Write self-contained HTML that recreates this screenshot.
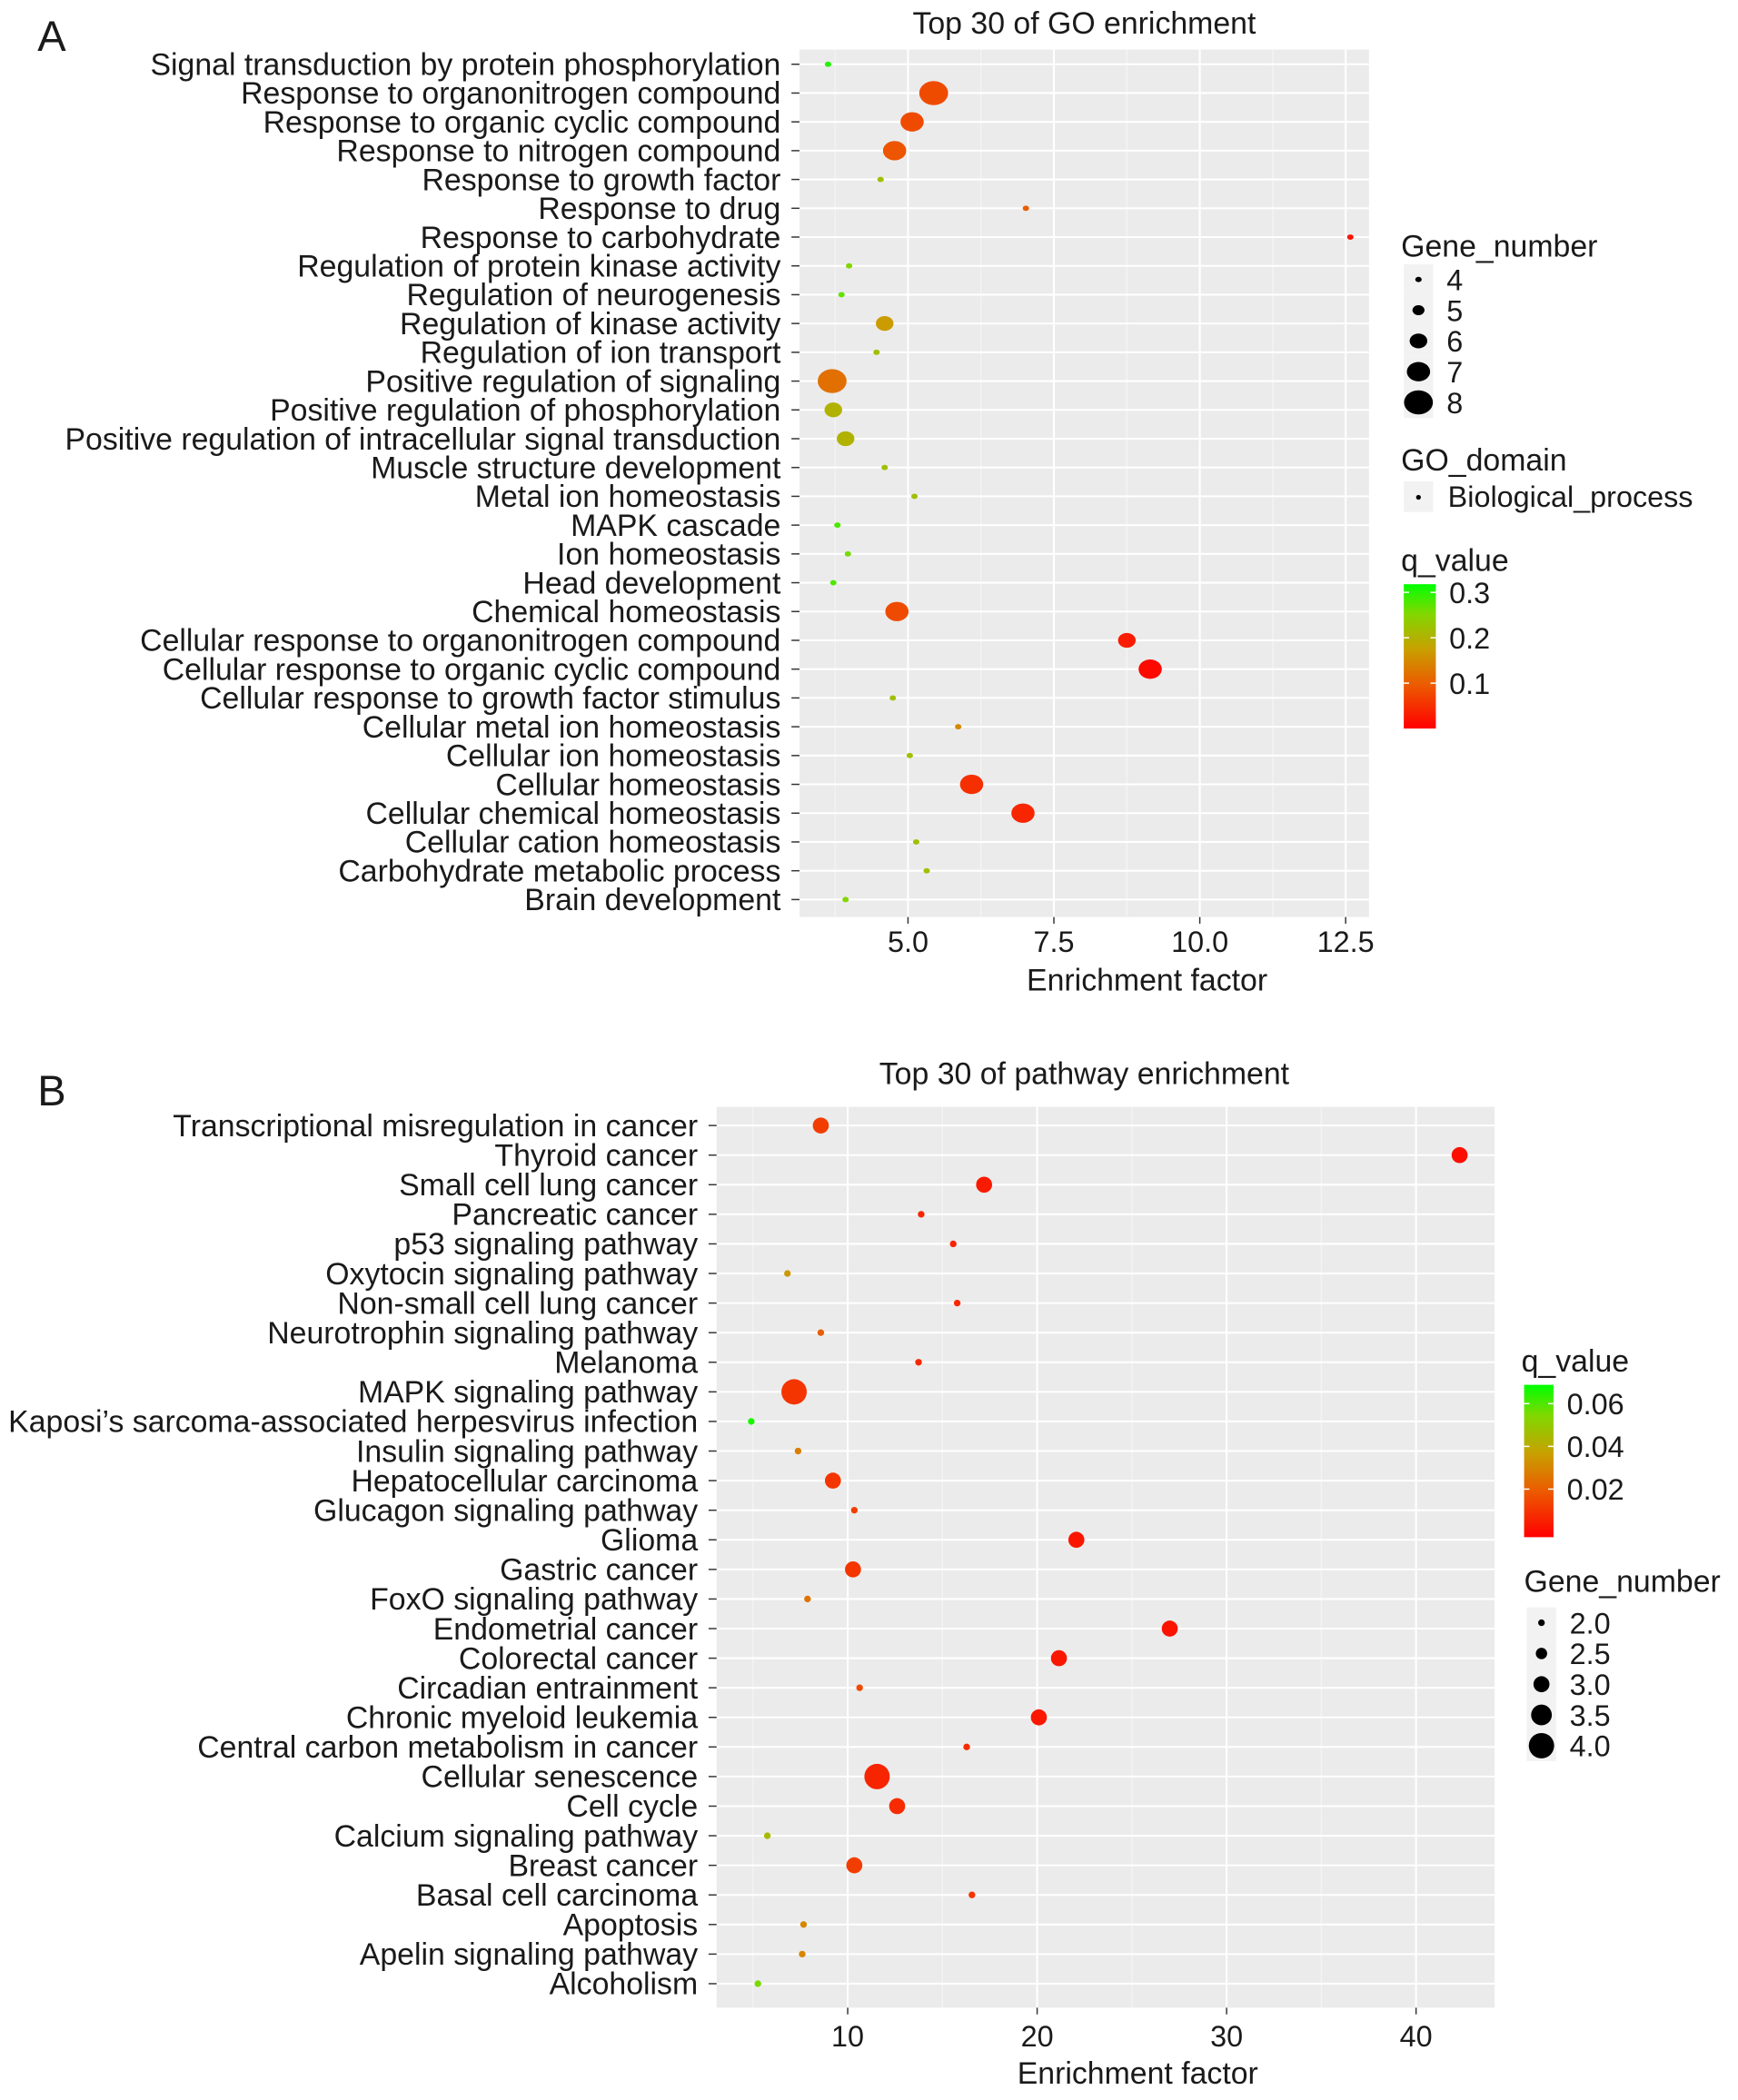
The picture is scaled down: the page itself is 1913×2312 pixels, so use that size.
<!DOCTYPE html>
<html><head><meta charset="utf-8"><style>
html,body{margin:0;padding:0;background:#fff}
svg{display:block}
text{font-family:"Liberation Sans",Arial,sans-serif;fill:#1a1a1a}
</style></head><body>
<svg id="chart" width="1913" height="2312" viewBox="0 0 1300 1571" xmlns="http://www.w3.org/2000/svg">
<defs>
<linearGradient id="gA" x1="0" y1="1" x2="0" y2="0">
<stop offset="0" stop-color="#ff0000"/><stop offset="0.3" stop-color="#ec5a00"/><stop offset="0.55" stop-color="#c8a000"/><stop offset="0.8" stop-color="#80d800"/><stop offset="1" stop-color="#00ff00"/>
</linearGradient>
</defs>
<g id="root"></g>
</svg>
<script>
const NS="http://www.w3.org/2000/svg";
const root=document.getElementById('root');
function mk(tag,attrs,parent,txt){const e=document.createElementNS(NS,tag);for(const k in attrs)e.setAttribute(k,attrs[k]);if(txt!==undefined)e.textContent=txt;(parent||root).appendChild(e);return e;}

// ---- Panel A data ----
const goTerms=["Signal transduction by protein phosphorylation","Response to organonitrogen compound","Response to organic cyclic compound","Response to nitrogen compound","Response to growth factor","Response to drug","Response to carbohydrate","Regulation of protein kinase activity","Regulation of neurogenesis","Regulation of kinase activity","Regulation of ion transport","Positive regulation of signaling","Positive regulation of phosphorylation","Positive regulation of intracellular signal transduction","Muscle structure development","Metal ion homeostasis","MAPK cascade","Ion homeostasis","Head development","Chemical homeostasis","Cellular response to organonitrogen compound","Cellular response to organic cyclic compound","Cellular response to growth factor stimulus","Cellular metal ion homeostasis","Cellular ion homeostasis","Cellular homeostasis","Cellular chemical homeostasis","Cellular cation homeostasis","Carbohydrate metabolic process","Brain development"];
const goFactor=[3.63,5.44,5.07,4.77,4.53,7.02,12.58,3.99,3.86,4.6,4.46,3.7,3.72,3.93,4.6,5.11,3.79,3.97,3.72,4.81,8.75,9.15,4.74,5.86,5.03,6.09,6.97,5.14,5.32,3.93];
const goGenes=[4,8,7,7,4,4,4,4,4,6,4,8,6,6,4,4,4,4,4,7,6,7,4,4,4,7,7,4,4,4];
const goQ=[0.3,0.08,0.08,0.09,0.22,0.1,0.02,0.25,0.27,0.17,0.22,0.12,0.2,0.2,0.22,0.22,0.28,0.26,0.28,0.08,0.03,0.01,0.22,0.15,0.22,0.05,0.04,0.22,0.22,0.25];
const goXTicks=[5.0,7.5,10.0,12.5];
const goXTickLabels=["5.0","7.5","10.0","12.5"];
const goSizeLegend=[4,5,6,7,8];
const goQTicks=[0.1,0.2,0.3];

// ---- Panel B data ----
const pwTerms=["Transcriptional misregulation in cancer","Thyroid cancer","Small cell lung cancer","Pancreatic cancer","p53 signaling pathway","Oxytocin signaling pathway","Non-small cell lung cancer","Neurotrophin signaling pathway","Melanoma","MAPK signaling pathway","Kaposi’s sarcoma-associated herpesvirus infection","Insulin signaling pathway","Hepatocellular carcinoma","Glucagon signaling pathway","Glioma","Gastric cancer","FoxO signaling pathway","Endometrial cancer","Colorectal cancer","Circadian entrainment","Chronic myeloid leukemia","Central carbon metabolism in cancer","Cellular senescence","Cell cycle","Calcium signaling pathway","Breast cancer","Basal cell carcinoma","Apoptosis","Apelin signaling pathway","Alcoholism"];
const pwFactor=[8.58,42.3,17.2,13.88,15.57,6.82,15.78,8.58,13.74,7.17,4.91,7.38,9.22,10.35,22.07,10.28,7.88,27.0,21.15,10.63,20.09,16.28,11.55,12.61,5.76,10.35,16.56,7.67,7.6,5.26];
const pwGenes=[3,3,3,2,2,2,2,2,2,4,2,2,3,2,3,3,2,3,3,2,3,2,4,3,2,3,2,2,2,2];
const pwQ=[0.012,0.001,0.004,0.006,0.006,0.035,0.007,0.02,0.007,0.01,0.066,0.028,0.01,0.012,0.003,0.01,0.025,0.002,0.003,0.015,0.003,0.008,0.006,0.008,0.045,0.012,0.01,0.03,0.03,0.055];
const pwXTicks=[10,20,30,40];
const pwXTickLabels=["10","20","30","40"];
const pwSizeLegend=[2.0,2.5,3.0,3.5,4.0];
const pwQTicks=[0.02,0.04,0.06];

function lerp(a,b,t){return a+(b-a)*t;}
const stops=[[0,[255,0,0]],[0.3,[236,90,0]],[0.55,[200,160,0]],[0.8,[128,216,0]],[1,[0,255,0]]];
function qColor(t){t=Math.max(0,Math.min(1,t));for(let i=1;i<stops.length;i++){if(t<=stops[i][0]){const a=stops[i-1],b=stops[i];const u=(t-a[0])/(b[0]-a[0]);return 'rgb('+a[1].map((c,j)=>Math.round(lerp(c,b[1][j],u))).join(',')+')';}}return 'rgb(0,255,0)';}

const FS=23;
function panel(o){
  const g=mk('g',{});
  
  
  const {L,R,T,B,xmin,xmax,y0,dy}=o;
  const xs=v=>L+(v-xmin)/(xmax-xmin)*(R-L);
  const ys=i=>y0+i*dy;
  const bg=mk('rect',{x:L,y:T,width:R-L,height:B-T,fill:'#ebebeb'},g);
  
  
  for(let i=0;i<o.xTicks.length+1;i++){const v=(i===0?o.xTicks[0]-o.step/2:o.xTicks[i-1]+o.step/2);if(v>xmin&&v<xmax)mk('line',{x1:xs(v),x2:xs(v),y1:T,y2:B,stroke:'#f5f5f5','stroke-width':0.8},g);}
  o.xTicks.forEach((v,i)=>{
    mk('line',{x1:xs(v),x2:xs(v),y1:T,y2:B,stroke:'#fff','stroke-width':1.4},g);
    mk('line',{x1:xs(v),x2:xs(v),y1:B,y2:B+5,stroke:'#333','stroke-width':1},g);
    const t=mk('text',{x:xs(v),y:o.tickY,'text-anchor':'middle','font-size':22,fill:'#4d4d4d'},g,o.xTickLabels[i]);
    
    
  });
  o.terms.forEach((term,i)=>{
    const y=ys(i);
    mk('line',{x1:L,x2:R,y1:y,y2:y,stroke:'#fff','stroke-width':1.4},g);
    mk('line',{x1:L-6,x2:L,y1:y,y2:y,stroke:'#333','stroke-width':1},g);
    const t=mk('text',{x:L-14,y:y+8,'text-anchor':'end','font-size':FS},g,term);
    
    
  });
  o.terms.forEach((term,i)=>{
    const r=o.rad(o.genes[i]);
    const c=mk('ellipse',{cx:xs(o.factor[i]),cy:ys(i),rx:r*o.asp,ry:r,fill:qColor((o.q[i]-o.qmin)/(o.qmax-o.qmin))},g);
    
    
  });
  const ti=mk('text',{x:o.titleX,y:o.titleY,'text-anchor':'middle','font-size':FS},g,o.title);
  
  
  const xt=mk('text',{x:o.xtX,y:o.xtY,'text-anchor':'middle','font-size':FS},g,'Enrichment factor');
  
  
  const pl=mk('text',{x:28,y:o.letterY,'font-size':32},g,o.letter);
  
  
  return {g,xs,ys};
}
function sizeLegend(g,x,y,off,vals,rad,asp,labels){
  const lg=mk('g',{},g);
  
  
  const t=mk('text',{x:x-2,y:y,'font-size':FS},lg,'Gene_number');
  
  
  vals.forEach((v,i)=>{
    const cy=y+off+i*23;
    mk('rect',{x:x,y:cy-11.5,width:22,height:23,fill:'#f2f2f2'},lg);
    const c=mk('ellipse',{cx:x+11,cy:cy,rx:rad(v)*asp,ry:rad(v),fill:'#000'},lg);
    
    
    mk('text',{x:x+32,y:cy+8,'font-size':22},lg,labels[i]);
  });
}
function colorBar(g,x,y0,y1,w,qmin,qmax,ticks,labels){
  const cg=mk('g',{},g);
  
  
  const t=mk('text',{x:x-2,y:y0-10,'font-size':FS},cg,'q_value');
  
  
  mk('rect',{x:x,y:y0,width:w,height:y1-y0,fill:'url(#gA)'},cg);
  ticks.forEach((v,i)=>{
    const yy=y1-(v-qmin)/(qmax-qmin)*(y1-y0);
    mk('line',{x1:x,x2:x+4,y1:yy,y2:yy,stroke:'#fff','stroke-width':1},cg);
    mk('line',{x1:x+w-4,x2:x+w,y1:yy,y2:yy,stroke:'#fff','stroke-width':1},cg);
    mk('text',{x:x+w+10,y:yy+8,'font-size':22},cg,labels[i]);
  });
}

// Panel A
const radA=v=>2+(v-4)*1.75;
const A=panel({name:'go-enrichment-panel',L:598,R:1024,T:37,B:686,xmin:3.14,xmax:12.9,y0:48,dy:21.55,
  terms:goTerms,factor:goFactor,genes:goGenes,q:goQ,qmin:0,qmax:0.318,rad:radA,asp:1.2,
  xTicks:goXTicks,xTickLabels:goXTickLabels,step:2.5,title:'Top 30 of GO enrichment',letter:'A',letterY:38,
  titleX:811,titleY:25,xtX:858,xtY:741,tickY:712});
sizeLegend(A.g,1050,192,17,goSizeLegend,radA,1.2,goSizeLegend.map(String));
const dg=mk('g',{},A.g);


mk('text',{x:1048,y:352,'font-size':FS},dg,'GO_domain');
mk('rect',{x:1050,y:360,width:22,height:23,fill:'#f2f2f2'},dg);
mk('circle',{cx:1061,cy:372,r:1.8,fill:'#000'},dg);
mk('text',{x:1083,y:379,'font-size':22},dg,'Biological_process');
colorBar(A.g,1050,437,545,24,0,0.318,goQTicks,["0.1","0.2","0.3"]);

// Panel B
const radB=v=>2.5+(v-2)*3.5;
const Bp=panel({name:'pathway-enrichment-panel',L:536,R:1118,T:828,B:1502,xmin:3.08,xmax:44.15,y0:842,dy:22.14,
  terms:pwTerms,factor:pwFactor,genes:pwGenes,q:pwQ,qmin:-0.0025,qmax:0.0688,rad:radB,asp:1.0,
  xTicks:pwXTicks,xTickLabels:pwXTickLabels,step:10,title:'Top 30 of pathway enrichment',letter:'B',letterY:827,
  titleX:811,titleY:811,xtX:851,xtY:1559,tickY:1531});
colorBar(Bp.g,1140,1036,1150,22,-0.0025,0.0688,pwQTicks,["0.02","0.04","0.06"]);
sizeLegend(Bp.g,1142,1191,23,pwSizeLegend,radB,1.0,pwSizeLegend.map(v=>v.toFixed(1)));
</script>
</body></html>
